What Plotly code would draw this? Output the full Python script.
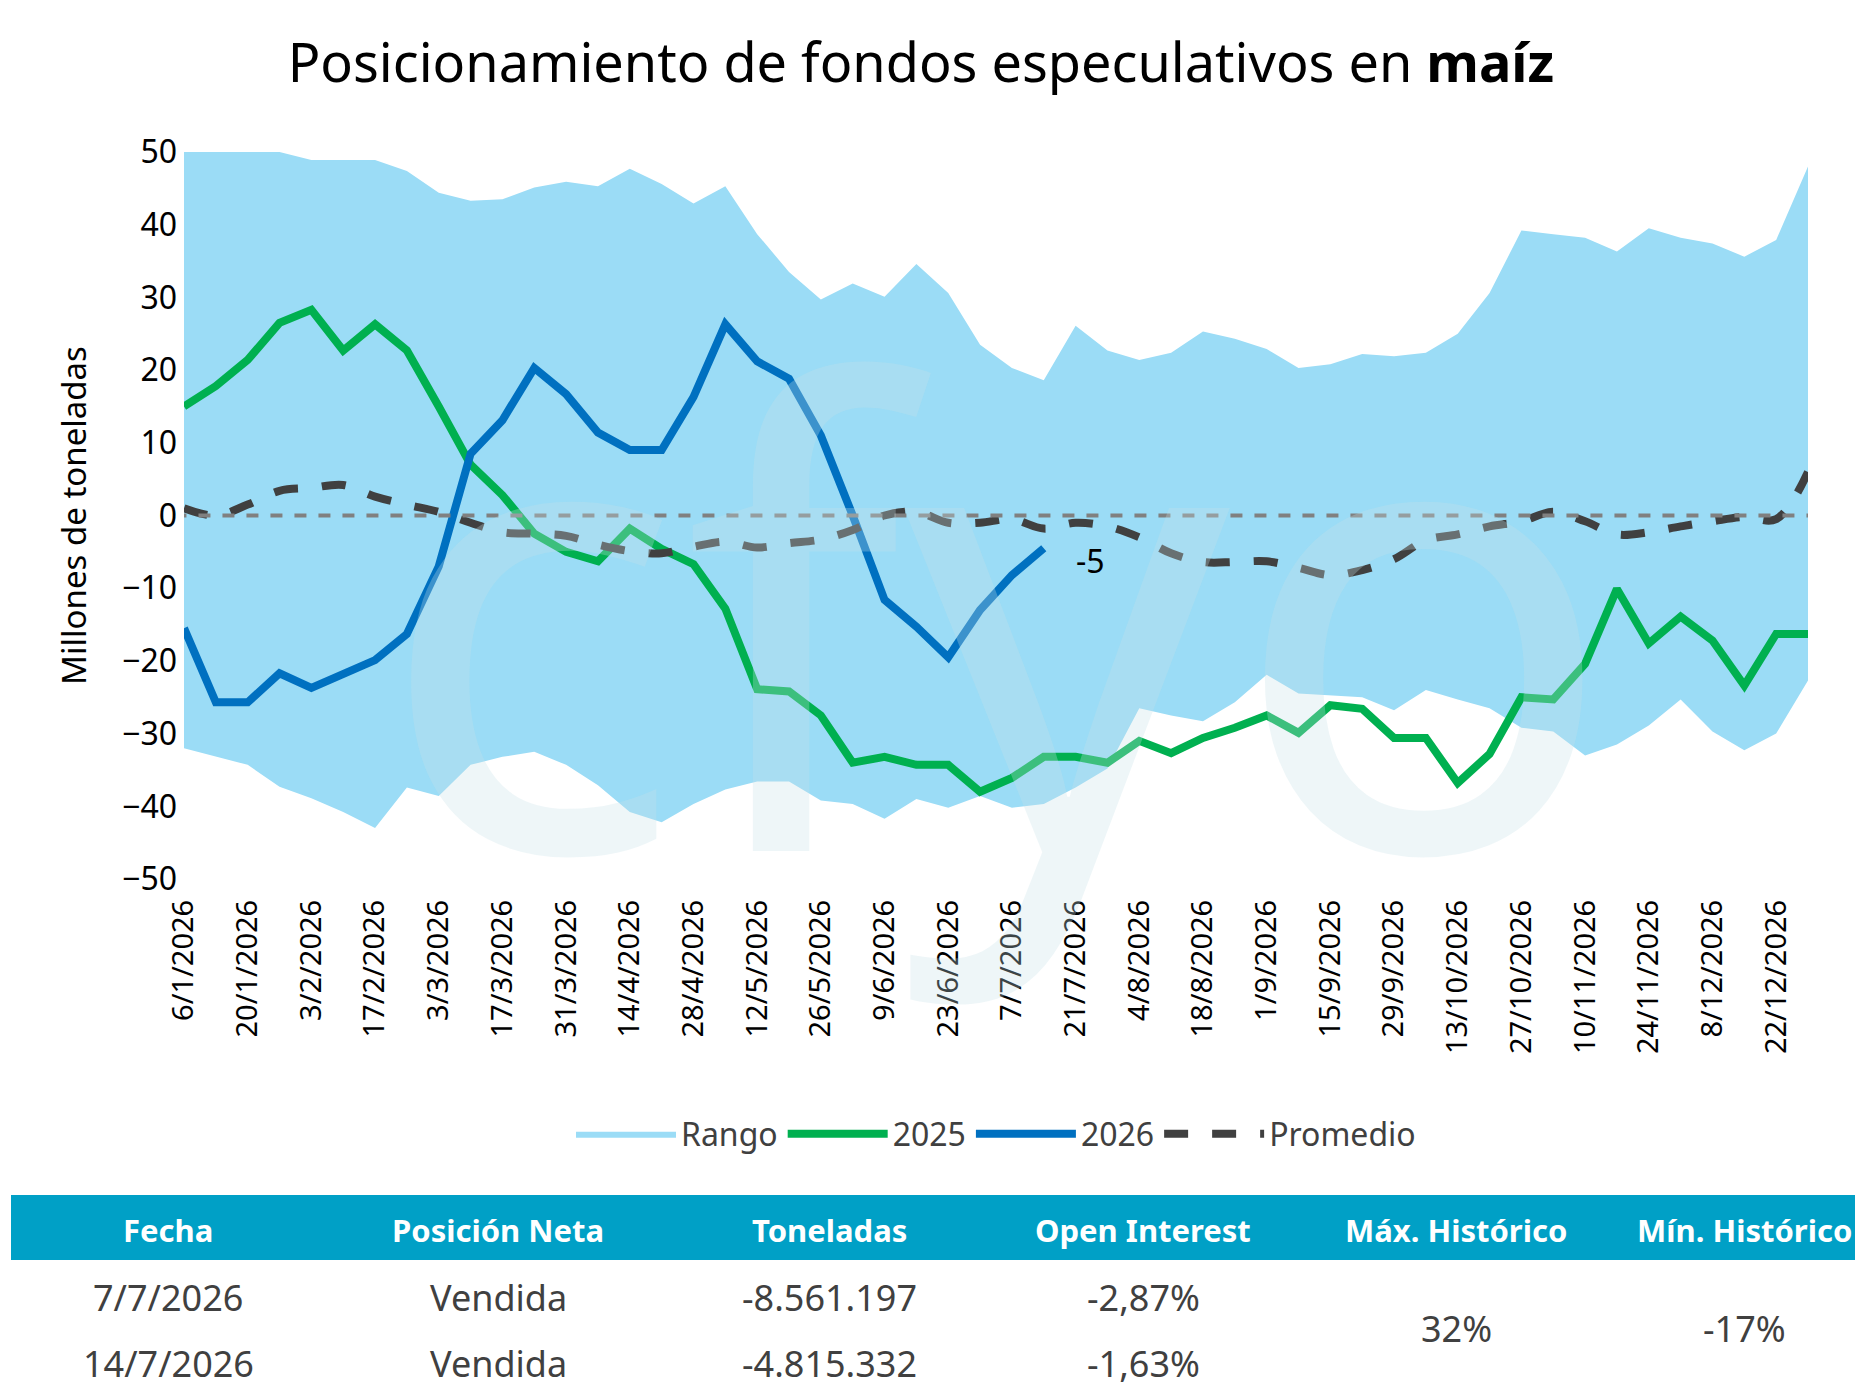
import datetime as dt
import plotly.graph_objects as go

W, H = 1863, 1389
L, R, T, B = 176, 1800, 144, 871  # plot area in pixels

start = dt.date(2026, 1, 6)
dates = [start + dt.timedelta(weeks=i) for i in range(52)]
labels = [f"{d.day}/{d.month}/{d.year}" for d in dates]

rango_max = [50, 50, 50, 50, 48.9, 48.9, 48.9, 47.4, 44.4, 43.3, 43.5, 45.1, 45.9, 45.3,
             47.7, 45.6, 42.9, 45.3, 38.7, 33.5, 29.7, 31.9, 30.1, 34.6, 30.6, 23.5,
             20.3, 18.6, 26.1, 22.7, 21.4, 22.4, 25.3, 24.3, 22.9, 20.3, 20.8, 22.2,
             21.9, 22.4, 25.0, 30.6, 39.2, 38.7, 38.2, 36.3, 39.5, 38.2, 37.4, 35.6,
             37.9, 48.0]
rango_min = [-32, -33.2, -34.3, -37.3, -38.9, -40.8, -43, -37.4, -38.6, -34.3, -33.2,
             -32.5, -34.3, -37.1, -40.8, -42.2, -39.7, -37.7, -36.6, -36.6, -39.2,
             -39.7, -41.7, -39, -40.2, -38.6, -40.2, -39.7, -37.4, -34.8, -26.5,
             -27.5, -28.3, -25.7, -21.9, -24.5, -24.8, -25, -26.8, -24, -25.3, -26.5,
             -29.2, -29.7, -33, -31.5, -28.9, -25.3, -29.7, -32.3, -30, -22.7]
serie_2025 = [15, 17.8, 21.4, 26.5, 28.3, 22.7, 26.3, 22.7, 15, 7, 2.8, -2.5, -5,
              -6.3, -1.8, -4.6, -6.7, -12.8, -23.9, -24.2, -27.5, -34, -33.2, -34.3,
              -34.3, -38, -36.1, -33.2, -33.2, -34, -31, -32.7, -30.6, -29.2, -27.5,
              -29.9, -26.1, -26.6, -30.6, -30.6, -36.8, -32.8, -25, -25.3, -20.4,
              -10.1, -17.6, -13.9, -17.2, -23.4, -16.3, -16.3]
serie_2026 = [-15.5, -25.7, -25.7, -21.7, -23.7, -21.7, -19.9, -16.3, -7, 8.5, 13.1,
              20.3, 16.7, 11.4, 9, 9, 16.3, 26.3, 21.2, 18.8, 11, 0, -11.6, -15.3,
              -19.5, -13, -8.2, -4.5]
promedio = [1, 0, 1.5, 3.4, 3.8, 4.2, 2.6, 1.5, 0.5, -1, -2.3, -2.5, -2.8, -4, -4.9,
            -5.2, -4.3, -3.6, -4.4, -3.8, -3.3, -2, 0, 0.5, -1, -1, -0.5, -1.8, -1,
            -1.5, -3, -5.2, -6.4, -6.4, -6.3, -7.2, -8.2, -7.5, -6, -3.4, -2.6, -1.5,
            -0.8, 0.5, -0.8, -2.6, -2.3, -1.5, -0.8, -0.2, -0.5, 6]

headers = ["Fecha", "Posición Neta", "Toneladas", "Open Interest", "Máx. Histórico", "Mín. Histórico"]
tabla = [["7/7/2026", "Vendida", "-8.561.197", "-2,87%"],
         ["14/7/2026", "Vendida", "-4.815.332", "-1,63%"]]
max_hist, min_hist = "32%", "-17%"

x = list(range(len(dates)))
FONT = "Noto Sans"

fig = go.Figure()
fig.add_trace(go.Scatter(x=x, y=rango_min, mode="lines", line=dict(width=0),
                         showlegend=False, hoverinfo="skip"))
fig.add_trace(go.Scatter(x=x, y=rango_max, mode="lines", line=dict(width=0),
                         fill="tonexty", fillcolor="#9bdcf6", name="Rango"))
fig.add_shape(type="line", x0=-0.3, x1=51, y0=0, y1=0, layer="above",
              line=dict(color="#808080", width=4, dash="dash"))
fig.add_trace(go.Scatter(x=x, y=serie_2025, mode="lines", name="2025",
                         line=dict(color="#00b050", width=8)))
fig.add_trace(go.Scatter(x=x[:len(serie_2026)], y=serie_2026, mode="lines", name="2026",
                         line=dict(color="#0070c0", width=8)))
fig.add_trace(go.Scatter(x=x, y=promedio, mode="lines", name="Promedio",
                         line=dict(color="#404040", width=8, dash="dash", shape="spline")))

# watermark
fig.add_annotation(text="cfyo", x=0.5, y=0.38, xref="paper", yref="paper",
                   xanchor="center", yanchor="middle", showarrow=False,
                   font=dict(family="Noto Sans", size=640, color="rgba(200,225,232,0.3)"))

fig.add_annotation(x=len(serie_2026), y=serie_2026[-1], text="-5", showarrow=False,
                   xanchor="left", yanchor="middle", yshift=-12, xshift=-2,
                   font=dict(family=FONT, size=32, color="black"))

def px(xp):
    return (xp - L) / (R - L)

def py(yp):
    return (B - yp) / (B - T)

# table
fig.add_shape(type="rect", xref="paper", yref="paper", x0=px(3), x1=px(1863),
              y0=py(1252), y1=py(1187), fillcolor="#00a0c6", line=dict(width=0))
col_x = [160, 490, 821, 1135, 1448, 1736]
for cx, h in zip(col_x, headers):
    fig.add_annotation(text=f"<b>{h}</b>", x=px(cx), y=py(1222), xref="paper", yref="paper",
                       xanchor="center", yanchor="middle", showarrow=False,
                       font=dict(family=FONT, size=31, color="white"))
for row, ry in zip(tabla, [1289, 1355]):
    for cx, v in zip(col_x, row):
        fig.add_annotation(text=v, x=px(cx), y=py(ry), xref="paper", yref="paper",
                           xanchor="center", yanchor="middle", showarrow=False,
                           font=dict(family=FONT, size=36, color="#404040"))
for cx, v in zip(col_x[4:], [max_hist, min_hist]):
    fig.add_annotation(text=v, x=px(cx), y=py(1320), xref="paper", yref="paper",
                       xanchor="center", yanchor="middle", showarrow=False,
                       font=dict(family=FONT, size=36, color="#404040"))

fig.update_layout(
    width=W, height=H, autosize=False,
    margin=dict(l=L, r=W - R, t=T, b=H - B),
    plot_bgcolor="white", paper_bgcolor="white",
    font=dict(family=FONT, size=30, color="black"),
    title=dict(text="Posicionamiento de fondos especulativos en <b>maíz</b>",
               x=0.49, xanchor="center", y=1 - 55 / H, yanchor="middle",
               font=dict(size=54, color="black")),
    xaxis=dict(range=[0, 51], tickvals=x[::2], ticktext=labels[::2], tickangle=-90,
               showgrid=False, zeroline=False, showline=False, ticks="",
               ticklabelstandoff=14, tickfont=dict(size=29), fixedrange=True),
    yaxis=dict(range=[-50, 50], dtick=10, showgrid=False, zeroline=False,
               showline=False, ticks="", tickfont=dict(size=32), ticklabelstandoff=6,
               title=dict(text="Millones de toneladas", font=dict(size=33), standoff=25)),
    legend=dict(orientation="h", x=0.5, xanchor="center", y=py(1126), yanchor="middle",
                font=dict(size=32, color="#404040"), itemwidth=100, traceorder="normal"),
)

fig.write_html("out.html")
